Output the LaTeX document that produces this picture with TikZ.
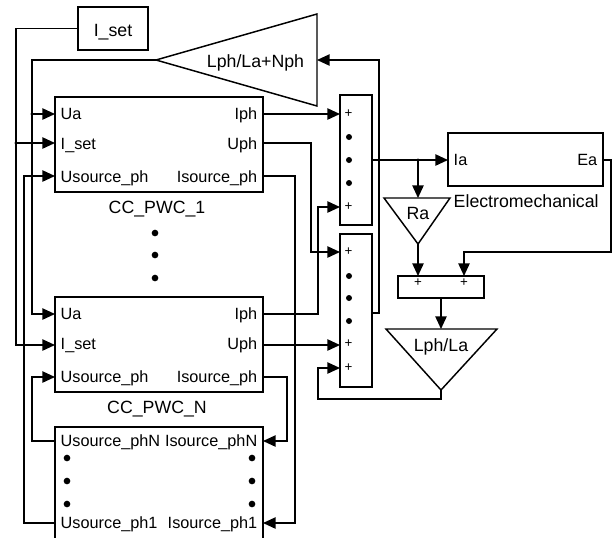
\documentclass[tikz,border=0pt]{standalone}
\usepackage{fontspec}
\setmainfont{Liberation Sans}
\usetikzlibrary{arrows.meta}
\begin{document}
\begin{tikzpicture}[x=0.75pt,y=-0.75pt,
  line width=1.1pt, line join=miter,
  blk/.style={draw, rectangle, inner sep=0pt, outer sep=0pt},
  port/.style={font=\fontsize{12.2}{14}\selectfont, inner sep=0pt},
  lbl/.style={font=\fontsize{13.3}{16}\selectfont, inner sep=0pt},
  pls/.style={font=\fontsize{10}{10}\selectfont, inner sep=0pt},
  wire/.style={-{Triangle[length=9.5pt,width=8.5pt]}},
  bigdot/.style={circle, fill, inner sep=0pt, minimum size=5pt},
  smalldot/.style={circle, fill, inner sep=0pt, minimum size=4.5pt},
  jn/.style={circle, fill, inner sep=0pt, minimum size=2.6pt}]
\useasboundingbox (0,0) rectangle (613,537);

% ---------- blocks ----------
\node[blk, minimum width=52.5pt, minimum height=32.25pt] (iset) at (113,28.5) {};
\node[lbl, anchor=base] (isetT) at (113,36) {I\_set};

\node[blk, minimum width=156pt, minimum height=71.25pt] (blk1) at (159,144.5) {};
\node[blk, minimum width=156pt, minimum height=71.25pt] (blkN) at (159,344.5) {};
\node[blk, minimum width=156pt, minimum height=84.75pt] (src) at (159,483.5) {};

\node[blk, minimum width=24pt, minimum height=97.5pt] (sum1) at (356,160) {};
\node[blk, minimum width=24pt, minimum height=114.75pt] (sum2) at (356,310.5) {};
\node[blk, minimum width=116.25pt, minimum height=39.75pt] (em) at (525.5,159.5) {};
\node[blk, minimum width=64.5pt, minimum height=16.5pt] (sum3) at (441,287) {};

% gain triangles
\coordinate (g1tip) at (156,60);
\coordinate (g1in) at (317,60);
\draw (g1tip) -- (317,14) -- (317,106) -- cycle;
\node[lbl, anchor=base] (g1T) at (255.5,67) {Lph/La+Nph};

\coordinate (raTop) at (418,198);
\coordinate (raTip) at (418,244);
\draw (384,198) -- (450,198) -- (raTip) -- cycle;
\node[lbl, anchor=base] (raT) at (418,219) {Ra};

\coordinate (g2in) at (441,329);
\coordinate (g2tip) at (441,390);
\draw (386,329) -- (497,329) -- (g2tip) -- cycle;
\node[lbl, anchor=base] (g2T) at (441,351) {Lph/La};

% ---------- port labels ----------
\foreach \y/\nm in {97/1, 297/N}{
  \node[port, anchor=base west] (ua\nm) at (60,\y+22.5) {Ua};
  \node[port, anchor=base west] (is\nm) at (60,\y+52.5) {I\_set};
  \node[port, anchor=base west] (us\nm) at (60,\y+85) {Usource\_ph};
  \node[port, anchor=base east] (iph\nm) at (258,\y+22.5) {Iph};
  \node[port, anchor=base east] (uph\nm) at (258,\y+52.5) {Uph};
  \node[port, anchor=base east] (isr\nm) at (258,\y+85) {Isource\_ph};
}
\node[lbl, anchor=base] (name1) at (157,213) {CC\_PWC\_1};
\node[lbl, anchor=base] (nameN) at (157,413) {CC\_PWC\_N};

\node[port, anchor=base west] (uN) at (60,446.5) {Usource\_phN};
\node[port, anchor=base east] (iN) at (258,446.5) {Isource\_phN};
\node[port, anchor=base west] (u1) at (60,528.5) {Usource\_ph1};
\node[port, anchor=base east] (i1) at (258,528.5) {Isource\_ph1};

\node[port, anchor=base west] (iaT) at (453,165.5) {Ia};
\node[port, anchor=base east] (eaT) at (598,165.5) {Ea};
\node[lbl, anchor=base west] (emT) at (453,207) {Electromechanical};

% ---------- ellipsis dots ----------
\foreach \y [count=\i] in {233,255,278}
  \node[bigdot] (vd\i) at (155,\y) {};
\foreach \y [count=\i] in {458,481,504}{
  \node[bigdot] (ld\i) at (67,\y) {};
  \node[bigdot] (rd\i) at (252,\y) {};
}
\foreach \y [count=\i] in {137,160,183}
  \node[smalldot] (s1d\i) at (349,\y) {};
\foreach \y [count=\i] in {276,298,321}
  \node[smalldot] (s2d\i) at (349,\y) {};

% ---------- plus signs ----------
\foreach \y [count=\i] in {114,207}
  \node[pls] (s1p\i) at (348.5,\y) {+};
\foreach \y [count=\i] in {252,344,368}
  \node[pls] (s2p\i) at (348.5,\y) {+};
\node[pls] (s3p1) at (418,283) {+};
\node[pls] (s3p2) at (464,283) {+};

% ---------- port coordinates ----------
\coordinate (b1ua) at (55,114);
\coordinate (b1is) at (55,143);
\coordinate (b1us) at (55,176);
\coordinate (b1iph) at (263,114);
\coordinate (b1uph) at (263,143);
\coordinate (b1isrc) at (263,176);
\coordinate (bNua) at (55,314);
\coordinate (bNis) at (55,345);
\coordinate (bNus) at (55,377);
\coordinate (bNiph) at (263,314);
\coordinate (bNuph) at (263,345);
\coordinate (bNisrc) at (263,377);
\coordinate (srcUN) at (55,441);
\coordinate (srcU1) at (55,523);
\coordinate (srcIN) at (263,441);
\coordinate (srcI1) at (263,523);
\coordinate (s1a) at (340,114);
\coordinate (s1b) at (340,207);
\coordinate (s1o) at (372,160);
\coordinate (s2a) at (340,252);
\coordinate (s2b) at (340,345);
\coordinate (s2c) at (340,368);
\coordinate (s2o) at (372,313);
\coordinate (emIa) at (448,160);
\coordinate (emEa) at (603,160);
\coordinate (s3a) at (418,276);
\coordinate (s3b) at (464,276);
\coordinate (s3o) at (441,298);

% junctions
\node[jn] (j1) at (16,143) {};
\node[jn] (j2) at (32,114) {};
\node[jn] (j3) at (418,160) {};

% ---------- connectors ----------
\draw[wire] (iset.west) -| (16,345) -- (bNis);
\draw[wire] (j1.center) -- (b1is);
\draw[wire] (g1tip) -| (32,314) -- (bNua);
\draw[wire] (j2.center) -- (b1ua);
\draw[wire] (srcUN) -| (32,377) -- (bNus);
\draw[wire] (srcU1) -| (24,176) -- (b1us);
\draw[wire] (b1isrc) -| (295,523) -- (srcI1);
\draw[wire] (bNisrc) -| (287,441) -- (srcIN);
\draw[wire] (b1iph) -- (s1a);
\draw[wire] (b1uph) -| (311,252) -- (s2a);
\draw[wire] (bNiph) -| (318,207) -- (s1b);
\draw[wire] (bNuph) -- (s2b);
\draw[wire] (g2tip) -- (441,399) -| (318,368) -- (s2c);
\draw[wire] (s2o) -| (379,60) -- (g1in);
\draw[wire] (s1o) -- (emIa);
\draw[wire] (j3.center) -- (raTop);
\draw[wire] (raTip) -- (s3a);
\draw[wire] (emEa) -| (611,252) -| (s3b);
\draw[wire] (s3o) -- (g2in);
\end{tikzpicture}
\end{document}
